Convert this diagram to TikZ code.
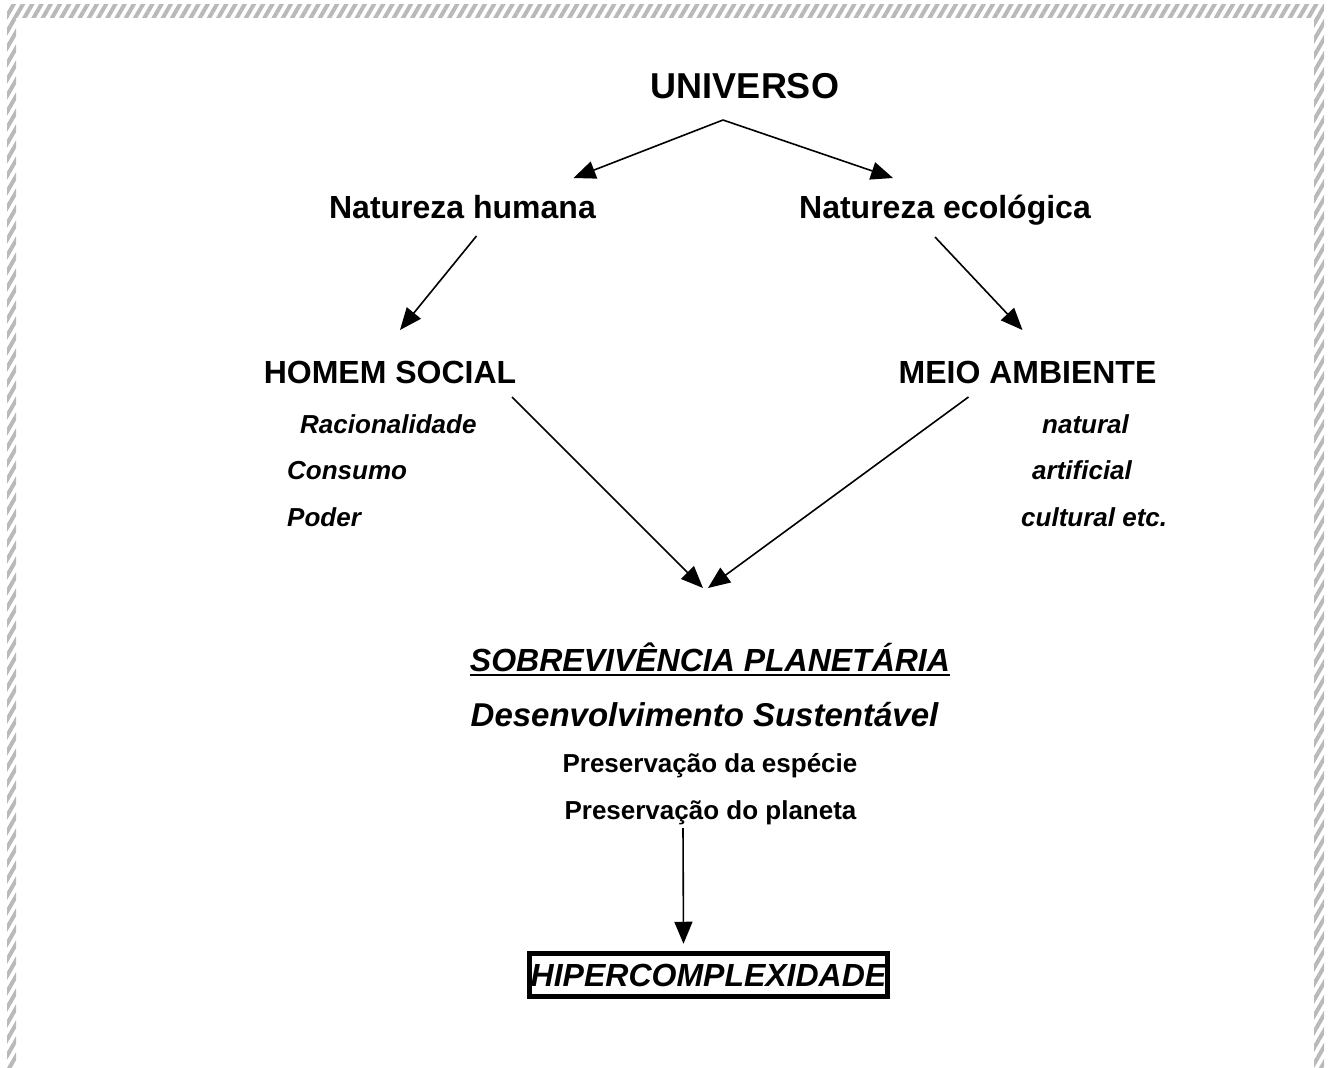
\documentclass[tikz,border=0pt]{standalone}
\usepackage{fontspec}
\setmainfont{Liberation Sans}
\usetikzlibrary{arrows.meta,patterns.meta}

\tikzset{
  arr/.style={-{Triangle[length=22pt,width=18pt]},line width=1.6pt},
  huge/.style={inner sep=0pt,font=\fontsize{36}{42}\selectfont\bfseries},
  head/.style={inner sep=0pt,font=\fontsize{32}{38}\selectfont\bfseries},
  headit/.style={inner sep=0pt,font=\fontsize{32}{38}\selectfont\bfseries\itshape},
  item/.style={inner sep=0pt,anchor=base west,font=\fontsize{26}{31}\selectfont\bfseries\itshape},
  small/.style={inner sep=0pt,font=\fontsize{26}{31}\selectfont\bfseries},
  hatch/.style={pattern={Lines[angle=60,distance=8pt,line width=4pt]},pattern color=gray!55}
}

\begin{document}
\begin{tikzpicture}[x=1pt,y=-1pt]
  \useasboundingbox (0,0) rectangle (1328,1068);
  % page frame
  \fill[hatch] (7,4) rectangle (1324,17);
  \fill[hatch] (7,17) rectangle (16,1068);
  \fill[hatch] (1314,17) rectangle (1324,1068);
  % top levels
  \node[huge,anchor=base] (universo) at (745,98) {UNIVERSO};
  \node[head,anchor=base] (nathum) at (462.5,218) {Natureza humana};
  \node[head,anchor=base] (natecol) at (945,218) {Natureza ecológica};
  \node[head,anchor=base] (homem) at (390,383) {HOMEM SOCIAL};
  \node[head,anchor=base] (meio) at (1027.5,383) {MEIO AMBIENTE};
  % the two lists
  \node[item] (racio) at (300,433) {Racionalidade};
  \node[item] (consumo) at (287,479) {Consumo};
  \node[item] (poder) at (287,526) {Poder};
  \node[item] (natural) at (1042,433) {natural};
  \node[item] (artif) at (1032,479) {artificial};
  \node[item] (cult) at (1021,526) {cultural etc.};
  % bottom block
  \node[headit,anchor=base] (sobre) at (710,671) {SOBREVIVÊNCIA PLANETÁRIA};
  \draw[line width=2pt] ([yshift=-4pt]sobre.base west) -- ([yshift=-4pt]sobre.base east);
  \node[headit,font=\fontsize{33}{39}\selectfont\bfseries\itshape,anchor=base] (desenv) at (704.5,726) {Desenvolvimento Sustentável};
  \node[small,anchor=base] (especie) at (710,772) {Preservação da espécie};
  \node[small,anchor=base] (planeta) at (710.5,819) {Preservação do planeta};
  \node[headit,draw,line width=5.5pt,minimum width=358pt,minimum height=43pt] (hiper) at (708.5,975) {HIPERCOMPLEXIDADE};
  % arrows
  \coordinate (apex) at ([shift={(-22,22)}]universo.base);
  \draw[arr] (apex) -- ([shift={(111,-40)}]nathum.base);
  \draw[arr] (apex) -- ([shift={(-52,-40)}]natecol.base);
  \draw[arr] ([shift={(14,18)}]nathum.base) -- ([shift={(10,-53)}]homem.base);
  \draw[arr] ([shift={(-10,19)}]natecol.base) -- ([shift={(-5,-53)}]meio.base);
  \draw[arr] ([shift={(122,14)}]homem.base) -- ([shift={(-7,-83)}]sobre.base);
  \draw[arr] ([shift={(-59,14)}]meio.base) -- ([shift={(-2,-83)}]sobre.base);
  \draw[arr] ([shift={(-27.5,9)}]planeta.base) -- ([shift={(-25,-7)}]hiper.north);
\end{tikzpicture}
\end{document}
